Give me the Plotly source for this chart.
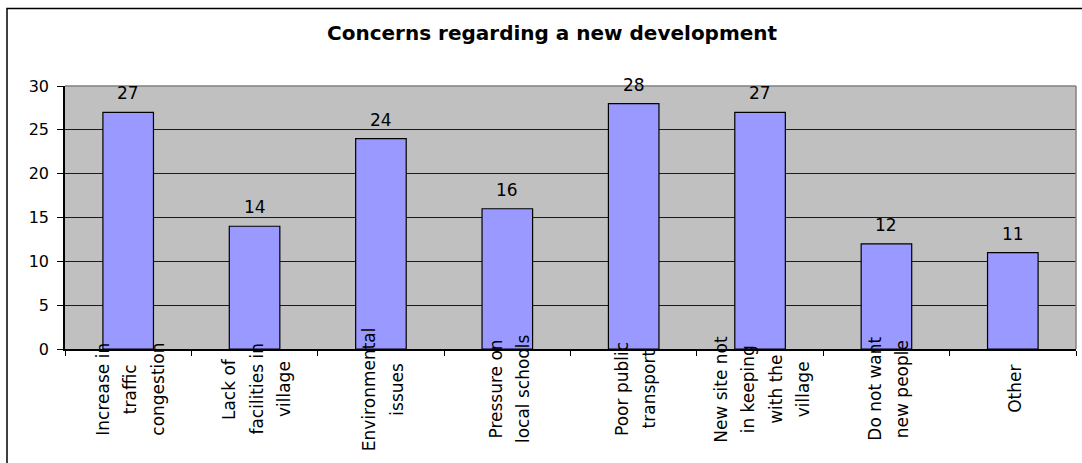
import plotly.graph_objects as go

# Category labels, one list of wrapped lines per bar
category_lines = [
    ["Increase in", "traffic", "congestion"],
    ["Lack of", "facilities in", "village"],
    ["Environmental", "issues"],
    ["Pressure on", "local schools"],
    ["Poor public", "transport"],
    ["New site not", "in keeping", "with the", "village"],
    ["Do not want", "new people"],
    ["Other"],
]
categories = [" ".join(lines) for lines in category_lines]
responses = [27, 14, 24, 16, 28, 27, 12, 11]
y_ticks = [0, 5, 10, 15, 20, 25, 30]

title_text = "Concerns regarding a new development"

W, H = 1082, 463
# plot area in pixels
PL, PR, PT, PB = 65, 1076, 86, 349
FONT = "DejaVu Sans"


def px_x(px):
    return (px - PL) / (PR - PL)


def px_y(py):
    return (PB - py) / (PB - PT)


fig = go.Figure()
fig.add_trace(go.Bar(
    x=categories,
    y=responses,
    marker=dict(color="#9999FF", line=dict(color="#000000", width=1.2)),
    hoverinfo="x+y",
))

annotations = []
# value labels above each bar
for cat, val in zip(categories, responses):
    annotations.append(dict(
        x=cat, y=val, xref="x", yref="y", text=str(val), showarrow=False,
        yshift=19, yanchor="middle", xanchor="center",
        font=dict(family=FONT, size=17, color="#000000"),
    ))

# rotated, multi-line category labels below the axis
LINE_STEP = 27.5
for cat, lines in zip(categories, category_lines):
    n = len(lines)
    for i, line in enumerate(lines):
        annotations.append(dict(
            x=cat, y=px_y(389), xref="x", yref="paper", text=line,
            showarrow=False, textangle=-90, xanchor="center", yanchor="middle",
            xshift=(i - (n - 1) / 2) * LINE_STEP + 2,
            font=dict(family=FONT, size=17, color="#000000"),
        ))

# chart title
annotations.append(dict(
    x=px_x(552), y=px_y(33), xref="paper", yref="paper", text=title_text,
    showarrow=False, xanchor="center", yanchor="middle",
    font=dict(family=FONT, size=20, color="#000000", weight="bold"),
))

shapes = [
    # outer chart frame
    dict(type="rect", xref="paper", yref="paper",
         x0=px_x(7), x1=px_x(1110), y0=px_y(480), y1=px_y(8.5),
         line=dict(color="#000000", width=1.5), fillcolor="rgba(0,0,0,0)",
         layer="below"),
    # plot area border (top and right)
    dict(type="line", xref="paper", yref="paper", x0=0, x1=1, y0=1, y1=1,
         line=dict(color="#808080", width=1.5), layer="above"),
    dict(type="line", xref="paper", yref="paper", x0=1, x1=1, y0=0, y1=1,
         line=dict(color="#808080", width=1.5), layer="above"),
]

fig.update_layout(
    width=W, height=H,
    margin=dict(l=PL, r=W - PR, t=PT, b=H - PB, pad=0),
    paper_bgcolor="#FFFFFF",
    plot_bgcolor="#C0C0C0",
    showlegend=False,
    bargap=0.6,
    font=dict(family=FONT, size=16, color="#000000"),
    annotations=annotations,
    shapes=shapes,
)

fig.update_xaxes(
    type="category",
    showticklabels=False,
    ticks="outside", tickson="boundaries", ticklen=5, tickwidth=1,
    tickcolor="#000000",
    showline=True, linecolor="#000000", linewidth=1.5,
    showgrid=False, zeroline=False,
)

fig.update_yaxes(
    range=[0, 30],
    tickvals=y_ticks,
    ticktext=[str(v) for v in y_ticks],
    ticks="outside", ticklen=6, tickwidth=1, tickcolor="#000000",
    ticklabelstandoff=5,
    tickfont=dict(family=FONT, size=16, color="#000000"),
    showline=True, linecolor="#000000", linewidth=1.5,
    showgrid=True, gridcolor="#1a1a1a", gridwidth=1,
    zeroline=False,
)

fig.write_html("out.html")
